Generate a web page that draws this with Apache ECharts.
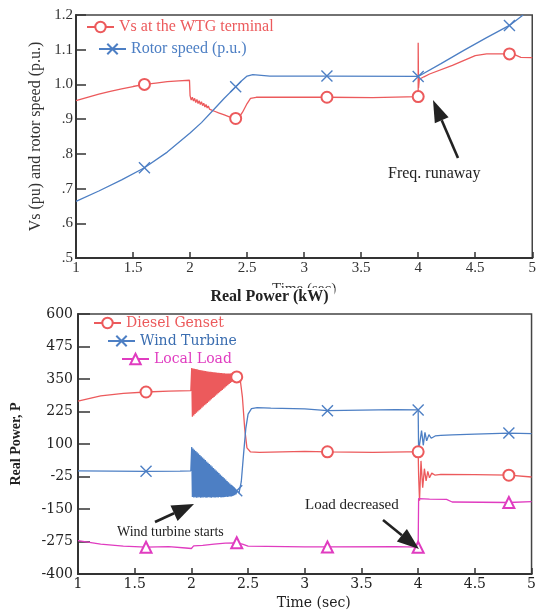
<!DOCTYPE html>
<html>
<head>
<meta charset="utf-8">
<script src="https://cdn.jsdelivr.net/npm/echarts@6/dist/echarts.min.js"></script>
<style>
  html, body { margin: 0; padding: 0; background: #fff; }
  #main { width: 539px; height: 615px; }
</style>
</head>
<body>
<div id="main"></div>
<script>
// ---- top chart: Vs and rotor speed (p.u.)
const vsTime = [1.0,1.1,1.2,1.3,1.4,1.5,1.6,1.7,1.8,1.9,1.995,
  2.0,2.01,2.02,2.03,2.04,2.05,2.06,2.07,2.08,2.09,2.1,2.11,2.12,2.13,2.14,2.15,2.16,2.17,2.18,2.19,2.2,
  2.22,2.25,2.3,2.35,2.4,2.43,2.46,2.5,2.53,2.58,2.8,3.2,3.6,
  4.0,4.0,4.003,4.01,4.05,4.1,4.3,4.5,4.6,4.8,4.85,4.9,5.0];
const vsVal = [0.953,0.963,0.972,0.98,0.987,0.994,1.0,1.004,1.008,1.01,1.012,
  0.968,0.955,0.963,0.952,0.96,0.948,0.957,0.945,0.953,0.942,0.95,0.939,0.946,0.935,0.942,0.932,0.938,0.929,0.934,0.926,0.93,
  0.922,0.918,0.912,0.906,0.902,0.905,0.92,0.945,0.96,0.963,0.963,0.963,0.962,
  0.965,1.12,0.99,1.015,1.022,1.03,1.055,1.083,1.088,1.088,1.085,1.078,1.077];

const rotorTime = [1.0,1.2,1.4,1.6,1.8,2.0,2.1,2.2,2.3,2.4,2.45,2.5,2.55,2.7,3.2,4.0,4.2,4.4,4.6,4.8,4.92];
const rotorVal = [0.663,0.693,0.725,0.76,0.805,0.86,0.89,0.925,0.96,0.993,1.01,1.024,1.028,1.024,1.024,1.023,1.06,1.098,1.135,1.17,1.2];

// ---- bottom chart: real power (kW)
// sample times of the oscillation after the wind turbine starts
const oscTime = [2.0,2.003,2.009,2.015,2.021,2.027,2.033,2.039,2.045,2.051,2.057,2.063,2.069,2.075,2.081,2.087,
  2.093,2.099,2.105,2.111,2.117,2.123,2.129,2.135,2.141,2.147,2.153,2.159,2.165,2.171,2.177,2.183,2.189,2.195,
  2.201,2.207,2.213,2.219,2.225,2.231,2.237,2.243,2.249,2.255,2.261,2.267,2.273,2.279,2.285,2.291,2.297,
  2.303,2.309,2.315,2.321,2.327,2.333,2.339,2.345,2.351,2.357,2.363,2.369,2.375,2.381,2.387,2.393];

const dieselOsc = [305, 392,205, 390,210, 389,215, 388,220, 387,225, 386,230, 385,234, 384,239, 383,244,
  382,249, 381,253, 380,258, 379,263, 378,267, 378,272, 377,277, 376,281, 376,286, 375,290, 374,295,
  374,299, 373,304, 373,308, 372,313, 372,317, 371,322, 371,326, 371,331, 371,335, 372,339, 372,343,
  371,348, 368,352];
const windOsc = [-3, 88,-104, 83,-106, 78,-105, 73,-107, 68,-106, 63,-105, 58,-107, 53,-106, 48,-106,
  43,-105, 38,-107, 33,-106, 28,-105, 23,-106, 18,-107, 13,-105, 8,-106, 3,-106, -2,-105, -7,-106,
  -12,-104, -17,-106, -22,-105, -27,-105, -32,-104, -37,-103, -42,-104, -47,-102, -52,-102, -57,-100,
  -62,-99, -67,-97, -72,-94];

const dieselTime = [1.0,1.2,1.4,1.6,1.8,1.995, ...oscTime,
  2.4,2.43,2.45,2.47,2.49,2.52,2.6,3.0,3.2,3.6,3.9,4.0,
  4.004,4.012,4.025,4.04,4.055,4.07,4.085,4.1,4.12,4.15,4.2,4.5,4.8,5.0];
const dieselVal = [265,285,295,300,303,305, ...dieselOsc,
  358,350,280,160,85,70,68,72,70,68,70,70,
  -20,-118,35,-68,5,-42,-5,-30,-12,-20,-17,-18,-20,-27];

const windTime = [1.0,1.3,1.6,1.9,1.995, ...oscTime,
  2.4,2.42,2.44,2.46,2.48,2.5,2.53,2.58,2.7,3.0,3.2,3.5,3.8,4.0,
  4.004,4.015,4.03,4.045,4.06,4.075,4.095,4.115,4.15,4.2,4.3,4.5,4.8,5.0];
const windVal = [-3,-4,-5,-4,-3, ...windOsc,
  -80,-88,-45,60,160,215,236,240,238,235,228,230,232,231,
  72,65,152,95,145,112,136,122,131,133,135,138,142,140];

const loadTime = [1.0,1.2,1.4,1.6,1.8,1.95,2.0,2.02,2.1,2.2,2.3,2.4,2.45,2.5,3.0,3.2,3.8,4.0,4.004,4.1,4.25,4.3,4.8,5.0];
const loadVal = [-272,-285,-293,-297,-295,-300,-302,-292,-290,-285,-281,-280,-285,-293,-296,-296,-295,-297,-110,-112,-113,-123,-125,-122];

// times where the curves carry a marker
const markerTimes = [1.6, 2.4, 3.2, 4.0, 4.8];

const RED = '#ec5a5c';
const BLUE = '#4d7fc4';
const MAGENTA = '#e03cc0';
const SERIF = '"Liberation Serif", "Times New Roman", serif';
const WIDE = '"DejaVu Serif", serif';
const CROSS = 'path://M0,0L10,10M10,0L0,10';

// only the first point at each marker time gets a symbol
function build(ts, vs) {
  const used = new Set();
  return ts.map((t, i) => {
    const item = { value: [t, vs[i]] };
    const m = markerTimes.find(mt => Math.abs(mt - t) < 1e-9);
    if (m === undefined || used.has(m)) item.symbol = 'none';
    else used.add(m);
    return item;
  });
}

function line(name, ts, vs, color, symbol, idx) {
  return {
    name, type: 'line', xAxisIndex: idx, yAxisIndex: idx,
    data: build(ts, vs),
    symbol, symbolSize: 11, showAllSymbol: true,
    lineStyle: { color, width: 1.3 },
    itemStyle: { color, borderColor: color, borderWidth: 1.4 },
    z: 3
  };
}

// arrow: shaft + filled head, pixel coords (annotation only)
function arrow(tail, tip, len, wid) {
  const dx = tip[0] - tail[0], dy = tip[1] - tail[1];
  const d = Math.hypot(dx, dy), ux = dx / d, uy = dy / d;
  const bx = tip[0] - ux * len, by = tip[1] - uy * len;
  const nx = -uy * wid / 2, ny = ux * wid / 2;
  return [
    { type: 'line', shape: { x1: tail[0], y1: tail[1], x2: bx, y2: by },
      style: { stroke: '#222', lineWidth: 2.6 }, z: 10 },
    { type: 'polygon', shape: { points: [tip, [bx + nx, by + ny], [bx - nx, by - ny]] },
      style: { fill: '#222' }, z: 10 }
  ];
}

function legend(name, left, top, color, font, size) {
  return {
    data: [name], left, top, itemWidth: 27, itemHeight: 13, selectedMode: false,
    padding: 0,
    textStyle: { color, fontFamily: font, fontSize: size }
  };
}

const chart = echarts.init(document.getElementById('main'));

const axisLine = { onZero: false, lineStyle: { color: '#333', width: 2 } };

chart.setOption({
  animation: false,
  backgroundColor: '#fff',
  title: {
    text: 'Real Power (kW)', left: 'center', top: 288, padding: [1, 6, 0, 6],
    backgroundColor: '#fff',
    textStyle: { fontFamily: SERIF, fontSize: 16, fontWeight: 'bold', color: '#222' }
  },
  grid: [
    { left: 76, top: 15, width: 461, height: 243, show: true, borderColor: '#444', borderWidth: 1.5 },
    { left: 78, top: 314, width: 459, height: 260, show: true, borderColor: '#444', borderWidth: 1.5 }
  ],
  legend: [
    legend('Vs at the WTG terminal', 86, 19, RED, SERIF, 16),
    legend('Rotor speed (p.u.)', 98, 41, BLUE, SERIF, 16),
    legend('Diesel Genset', 93, 316, RED, WIDE, 14),
    legend('Wind Turbine', 107, 334, '#3a6db0', WIDE, 14),
    legend('Local Load', 121, 352, MAGENTA, WIDE, 14)
  ],
  xAxis: [
    {
      type: 'value', gridIndex: 0, min: 1, max: 5, interval: 0.5,
      name: 'Time (sec)', nameLocation: 'middle', nameGap: 24,
      nameTextStyle: { fontFamily: SERIF, fontSize: 15, color: '#333' },
      axisLine, splitLine: { show: false },
      axisTick: { inside: true, length: 6, lineStyle: { color: '#333', width: 1.5 } },
      axisLabel: { margin: 3, fontFamily: SERIF, fontSize: 15, color: '#333' }
    },
    {
      type: 'value', gridIndex: 1, min: 1, max: 5, interval: 0.5,
      name: 'Time (sec)', nameLocation: 'middle', nameGap: 22,
      nameTextStyle: { fontFamily: WIDE, fontSize: 14, color: '#222', padding: [0, 0, 0, 18] },
      axisLine, splitLine: { show: false },
      axisTick: { inside: true, length: 6, lineStyle: { color: '#333', width: 1.5 } },
      axisLabel: { margin: 3, fontFamily: WIDE, fontSize: 14, color: '#222' }
    }
  ],
  yAxis: [
    {
      type: 'value', gridIndex: 0, min: 0.5, max: 1.2, interval: 0.1,
      name: 'Vs (pu) and rotor speed (p.u.)', nameLocation: 'middle', nameGap: 26,
      nameTextStyle: { fontFamily: SERIF, fontSize: 16, color: '#333' },
      axisLine, splitLine: { show: false },
      axisTick: { inside: true, length: 10, lineStyle: { color: '#333', width: 1.5 } },
      axisLabel: {
        margin: 3, fontFamily: SERIF, fontSize: 15, color: '#333',
        formatter: v => { const s = v.toFixed(1); return v < 1 ? s.slice(1) : s; }
      }
    },
    {
      type: 'value', gridIndex: 1, min: -400, max: 600, interval: 125,
      name: 'Real Power, P', nameLocation: 'middle', nameGap: 55,
      nameTextStyle: { fontFamily: SERIF, fontSize: 14, fontWeight: 'bold', color: '#222' },
      axisLine, splitLine: { show: false },
      axisTick: { inside: true, length: 12, lineStyle: { color: '#333', width: 1.5 } },
      axisLabel: { margin: 5, fontFamily: WIDE, fontSize: 14, color: '#222' }
    }
  ],
  series: [
    line('Vs at the WTG terminal', vsTime, vsVal, RED, 'emptyCircle', 0),
    line('Rotor speed (p.u.)', rotorTime, rotorVal, BLUE, CROSS, 0),
    line('Diesel Genset', dieselTime, dieselVal, RED, 'emptyCircle', 1),
    line('Wind Turbine', windTime, windVal, BLUE, CROSS, 1),
    line('Local Load', loadTime, loadVal, MAGENTA, 'emptyTriangle', 1)
  ],
  graphic: [
    { type: 'text', left: 388, top: 166, z: 10,
      style: { text: 'Freq. runaway', font: '16px ' + SERIF, fill: '#222' } },
    { type: 'text', left: 117, top: 525, z: 10,
      style: { text: 'Wind turbine starts', font: '14px ' + SERIF, fill: '#222' } },
    { type: 'text', left: 305, top: 498, z: 10,
      style: { text: 'Load decreased', font: '15px ' + SERIF, fill: '#222' } },
    ...arrow([458, 158], [433, 100], 22, 15),
    ...arrow([155, 522], [194, 504], 22, 17),
    ...arrow([383, 520], [419, 549], 22, 16)
  ]
});
</script>
</body>
</html>
